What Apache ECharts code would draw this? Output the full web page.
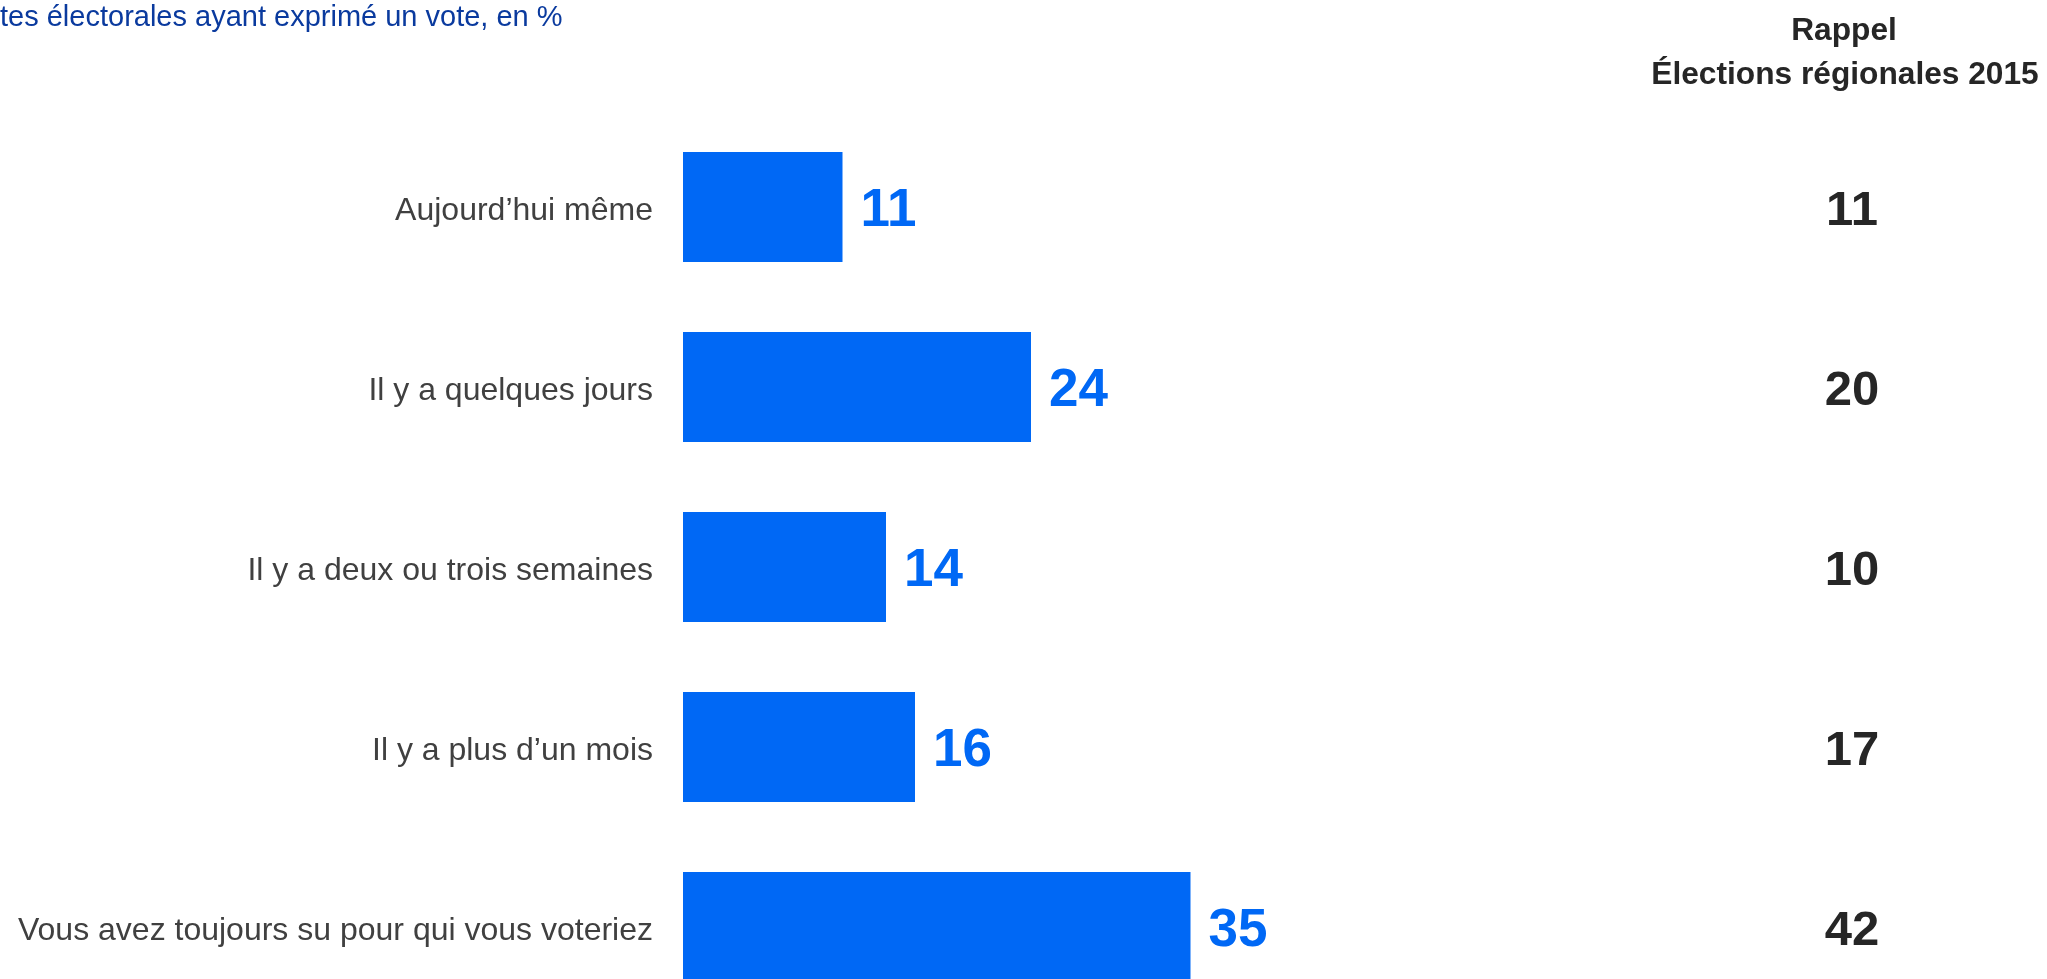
<!DOCTYPE html>
<html>
<head>
<meta charset="utf-8">
<script src="https://cdn.jsdelivr.net/npm/echarts@6/dist/echarts.min.js"></script>
<style>
html,body{margin:0;padding:0;background:#fff;}
#chart{width:2047px;height:979px;}
</style>
</head>
<body>
<div id="chart"></div>
<script>
const categories = [
  "Aujourd\u2019hui même",
  "Il y a quelques jours",
  "Il y a deux ou trois semaines",
  "Il y a plus d\u2019un mois",
  "Vous avez toujours su pour qui vous voteriez"
];
const values2021 = [11, 24, 14, 16, 35];
const rappel2015 = [11, 20, 10, 17, 42];
const subtitleText = "tes électorales ayant exprimé un vote, en %";
const headerLines = ["Rappel", "Élections régionales 2015"];

const BLUE = "#0068F5";
const FONT = "Liberation Sans, Arial, sans-serif";
const chart = echarts.init(document.getElementById("chart"));
chart.setOption({
  animation: false,
  backgroundColor: "#ffffff",
  textStyle: { fontFamily: FONT },
  grid: { left: 683, top: 117, width: 1160, height: 900, containLabel: false, outerBoundsMode: "none" },
  xAxis: {
    type: "value", min: 0, max: 80,
    show: false
  },
  yAxis: [
    {
      type: "category", data: categories, inverse: true,
      axisLine: { show: false }, axisTick: { show: false },
      axisLabel: {
        margin: 30,
        formatter: function (v) { return "{c|" + v + "}"; },
        rich: { c: { fontSize: 32, color: "#404040", fontFamily: FONT, padding: [8, 0, 0, 0] } }
      }
    },
    {
      type: "category", data: categories, inverse: true, position: "right",
      axisLine: { show: false }, axisTick: { show: false },
      axisLabel: {
        margin: 9, align: "center",
        formatter: function (v, i) { return "{r|" + rappel2015[i] + "}"; },
        rich: { r: { fontSize: 49, fontWeight: "bold", color: "#262626", fontFamily: FONT, padding: [8, 0, 0, 0] } }
      }
    }
  ],
  series: [{
    type: "bar",
    data: values2021,
    barWidth: 110,
    itemStyle: { color: BLUE },
    label: {
      show: true, position: "right", distance: 18, offset: [0, 4],
      fontSize: 53, fontWeight: "bold", color: BLUE,
      fontFamily: FONT
    }
  }],
  graphic: [
    {
      type: "text", left: 0, top: 3,
      style: { text: subtitleText, fontSize: 29, fill: "#0A3A9E", fontFamily: FONT }
    },
    {
      type: "text", x: 1844, y: 31,
      style: { text: headerLines[0], fontSize: 31.7, fontWeight: "bold", fill: "#262626", align: "center", verticalAlign: "middle", fontFamily: FONT }
    },
    {
      type: "text", x: 1845, y: 75,
      style: { text: headerLines[1], fontSize: 31.7, fontWeight: "bold", fill: "#262626", align: "center", verticalAlign: "middle", fontFamily: FONT }
    }
  ]
});
</script>
</body>
</html>
